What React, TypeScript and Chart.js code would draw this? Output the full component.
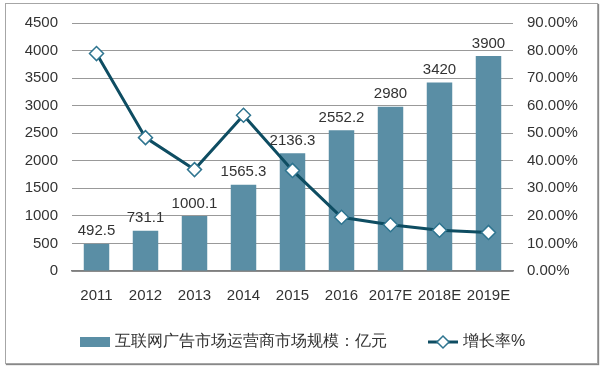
import React, { useEffect, useRef } from "react";
import { Chart, registerables } from "chart.js";

Chart.register(...registerables);

const categories = ["2011", "2012", "2013", "2014", "2015", "2016", "2017E", "2018E", "2019E"];
const marketSize = [492.5, 731.1, 1000.1, 1565.3, 2136.3, 2552.2, 2980, 3420, 3900];
const growthRate = [78.9, 48.4, 36.8, 56.5, 36.5, 19.5, 16.8, 14.8, 14.0];
const barLabel = "互联网广告市场运营商市场规模：亿元";
const lineLabel = "增长率%";

const BAR_COLOR = "#5A8EA5";
const LINE_COLOR = "#0E4D62";
const TEXT_COLOR = "#333333";
const FONT = "'Liberation Sans', Arial, sans-serif";

const labelPlugin = {
  id: "barLabels",
  afterDatasetsDraw(chart: any) {
    const ctx = chart.ctx;
    const meta = chart.getDatasetMeta(1);
    ctx.save();
    ctx.font = `15px ${FONT}`;
    ctx.fillStyle = TEXT_COLOR;
    ctx.textAlign = "center";
    ctx.textBaseline = "bottom";
    meta.data.forEach((el: any, i: number) => {
      ctx.fillText(String(marketSize[i]), el.x, el.y - 5);
    });
    ctx.restore();
  },
};

const legendPlugin = {
  id: "customLegend",
  afterDraw(chart: any) {
    const ctx = chart.ctx;
    const y = 342;
    ctx.save();
    ctx.font = `16px ${FONT}`;
    ctx.textBaseline = "middle";
    ctx.textAlign = "left";
    ctx.fillStyle = BAR_COLOR;
    ctx.fillRect(80, y - 5, 30, 10);
    ctx.fillStyle = TEXT_COLOR;
    ctx.fillText(barLabel, 115, y);
    ctx.strokeStyle = LINE_COLOR;
    ctx.lineWidth = 3;
    ctx.beginPath();
    ctx.moveTo(428, y);
    ctx.lineTo(458, y);
    ctx.stroke();
    ctx.fillStyle = "#ffffff";
    ctx.strokeStyle = "#2F7590";
    ctx.lineWidth = 1.5;
    ctx.beginPath();
    ctx.moveTo(443, y - 6);
    ctx.lineTo(449, y);
    ctx.lineTo(443, y + 6);
    ctx.lineTo(437, y);
    ctx.closePath();
    ctx.fill();
    ctx.stroke();
    ctx.fillStyle = TEXT_COLOR;
    ctx.fillText(lineLabel, 463, y);
    ctx.restore();
  },
};

export default function App() {
  const ref = useRef<HTMLCanvasElement>(null);
  useEffect(() => {
    const chart = new Chart(ref.current!, {
      type: "bar",
      data: {
        labels: categories,
        datasets: [
          {
            type: "line",
            label: lineLabel,
            data: growthRate,
            yAxisID: "y1",
            borderColor: LINE_COLOR,
            borderWidth: 3,
            pointStyle: "rectRot",
            pointRadius: 7,
            pointBackgroundColor: "#ffffff",
            pointBorderColor: "#2F7590",
            pointBorderWidth: 1.5,
            tension: 0,
            order: 0,
          } as any,
          {
            type: "bar",
            label: barLabel,
            data: marketSize,
            yAxisID: "y",
            backgroundColor: BAR_COLOR,
            categoryPercentage: 1,
            barPercentage: 0.52,
            order: 1,
          },
        ],
      },
      options: {
        animation: false,
        responsive: false,
        maintainAspectRatio: false,
        layout: { padding: { left: 0, right: 0, top: 20, bottom: 0 } },
        plugins: { legend: { display: false }, tooltip: { enabled: false } },
        scales: {
          x: {
            grid: { display: false, drawTicks: false },
            border: { display: true, color: "#7F7F7F", width: 1.5 },
            ticks: { color: TEXT_COLOR, font: { family: FONT, size: 15 }, padding: 16, maxRotation: 0, autoSkip: false },
            afterFit: (s: any) => { s.height = 99; },
          },
          y: {
            position: "left",
            min: 0,
            max: 4500,
            ticks: {
              stepSize: 500,
              color: TEXT_COLOR,
              font: { family: FONT, size: 15 },
              padding: 14,
              callback: (v: any) => String(v),
            },
            grid: { color: "#999999", drawTicks: false },
            border: { display: false },
            afterFit: (s: any) => { s.width = 72; },
          },
          y1: {
            position: "right",
            min: 0,
            max: 90,
            ticks: {
              stepSize: 10,
              color: TEXT_COLOR,
              font: { family: FONT, size: 15 },
              padding: 14,
              callback: (v: any) => Number(v).toFixed(2) + "%",
            },
            grid: { display: false, drawTicks: false },
            border: { display: false },
            afterFit: (s: any) => { s.width = 87; },
          },
        },
      },
      plugins: [labelPlugin, legendPlugin],
    });
    return () => chart.destroy();
  }, []);

  return (
    <div style={{ position: "fixed", left: 0, top: 0, width: 600, height: 370, background: "#fff" }}>
      <div
        style={{
          position: "absolute",
          left: 5,
          top: 3,
          width: 591,
          height: 359,
          border: "1px solid #A6A6A6",
          boxShadow: "1px 1px 1px #888",
        }}
      />
      <canvas ref={ref} width={600} height={370} style={{ position: "absolute", left: 0, top: 0 }} />
    </div>
  );
}
